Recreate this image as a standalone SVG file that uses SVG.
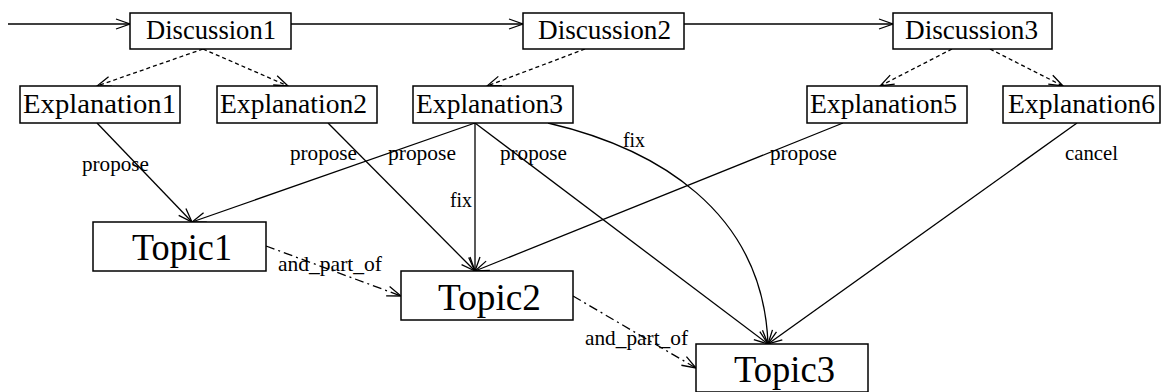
<svg xmlns="http://www.w3.org/2000/svg" width="1162" height="392" viewBox="0 0 1162 392">
<style>
.box{fill:#fff;stroke:#000;stroke-width:1.5}
.t{font-family:"Liberation Serif","Times New Roman",serif;fill:#000}
.n{font-size:28px}
.tp{font-size:37px}
.lb{font-size:21px}
.e{fill:none;stroke:#000;stroke-width:1.3}
.dash{stroke-dasharray:4 3}
.dd{stroke-dasharray:9 4 2 4}
</style>
<defs>
<marker id="arr" markerUnits="userSpaceOnUse" markerWidth="20" markerHeight="14" viewBox="-16 -7 18 14" refX="0" refY="0" orient="auto">
<path d="M-14,-5 L0,0 L-14,5" fill="none" stroke="#000" stroke-width="1.3"/>
</marker>
</defs>
<rect width="1162" height="392" fill="#fff"/>
<g id="connectors">
<path class="e" d="M8,24 L130,24" marker-end="url(#arr)"/>
<path class="e" d="M291,24 L523,24" marker-end="url(#arr)"/>
<path class="e" d="M684,24 L893,24" marker-end="url(#arr)"/>
<path class="e dash" d="M203,49 L97,86" marker-end="url(#arr)"/>
<path class="e dash" d="M203,49 L288,86" marker-end="url(#arr)"/>
<path class="e dash" d="M585,49 L487,86" marker-end="url(#arr)"/>
<path class="e dash" d="M952,49 L880,86" marker-end="url(#arr)"/>
<path class="e dash" d="M990,49 L1063,86" marker-end="url(#arr)"/>
<path class="e" d="M97,123 L192,222" marker-end="url(#arr)"/>
<path class="e" d="M475,123 L192,222" marker-end="url(#arr)"/>
<path class="e" d="M328,123 L475,271" marker-end="url(#arr)"/>
<path class="e" d="M475,123 L475,271" marker-end="url(#arr)"/>
<path class="e" d="M843,123 L475,271" marker-end="url(#arr)"/>
<path class="e" d="M475,123 L768,344" marker-end="url(#arr)"/>
<path class="e" d="M548,123 C655,148 763,210 768,344" marker-end="url(#arr)"/>
<path class="e" d="M1077,123 L768,344" marker-end="url(#arr)"/>
<path class="e dd" d="M266,246 L401,296" marker-end="url(#arr)"/>
<path class="e dd" d="M573,296 L696,368" marker-end="url(#arr)"/>
<text class="t lb" x="82" y="171" textLength="67" lengthAdjust="spacingAndGlyphs">propose</text>
<text class="t lb" x="290" y="160" textLength="67" lengthAdjust="spacingAndGlyphs">propose</text>
<text class="t lb" x="388" y="160" textLength="68" lengthAdjust="spacingAndGlyphs">propose</text>
<text class="t lb" x="450" y="207" textLength="22" lengthAdjust="spacingAndGlyphs">fix</text>
<text class="t lb" x="500" y="160" textLength="67" lengthAdjust="spacingAndGlyphs">propose</text>
<text class="t lb" x="623" y="147" textLength="22" lengthAdjust="spacingAndGlyphs">fix</text>
<text class="t lb" x="770" y="160" textLength="67" lengthAdjust="spacingAndGlyphs">propose</text>
<text class="t lb" x="1065" y="160" textLength="53" lengthAdjust="spacingAndGlyphs">cancel</text>
<text class="t lb" x="278" y="271" textLength="104" lengthAdjust="spacingAndGlyphs">and_part_of</text>
<text class="t lb" x="585" y="345" textLength="103" lengthAdjust="spacingAndGlyphs">and_part_of</text>
</g>
<g id="Discussion1"><rect class="box" x="130" y="13" width="161" height="36"/><text class="t n" x="146" y="39" textLength="130" lengthAdjust="spacingAndGlyphs">Discussion1</text></g>
<g id="Discussion2"><rect class="box" x="523" y="13" width="161" height="36"/><text class="t n" x="538" y="39" textLength="133" lengthAdjust="spacingAndGlyphs">Discussion2</text></g>
<g id="Discussion3"><rect class="box" x="893" y="13" width="159" height="36"/><text class="t n" x="905" y="39" textLength="133" lengthAdjust="spacingAndGlyphs">Discussion3</text></g>
<g id="Explanation1"><rect class="box" x="20" y="86" width="160" height="37"/><text class="t n" x="23" y="113" textLength="153" lengthAdjust="spacingAndGlyphs">Explanation1</text></g>
<g id="Explanation2"><rect class="box" x="217" y="86" width="160" height="37"/><text class="t n" x="220" y="113" textLength="147" lengthAdjust="spacingAndGlyphs">Explanation2</text></g>
<g id="Explanation3"><rect class="box" x="413" y="86" width="160" height="37"/><text class="t n" x="416" y="113" textLength="147" lengthAdjust="spacingAndGlyphs">Explanation3</text></g>
<g id="Explanation5"><rect class="box" x="807" y="86" width="160" height="37"/><text class="t n" x="810" y="113" textLength="147" lengthAdjust="spacingAndGlyphs">Explanation5</text></g>
<g id="Explanation6"><rect class="box" x="1003" y="86" width="157" height="37"/><text class="t n" x="1008" y="113" textLength="147" lengthAdjust="spacingAndGlyphs">Explanation6</text></g>
<g id="Topic1"><rect class="box" x="93" y="222" width="173" height="49"/><text class="t tp" x="132" y="260" textLength="100" lengthAdjust="spacingAndGlyphs">Topic1</text></g>
<g id="Topic2"><rect class="box" x="401" y="271" width="172" height="49"/><text class="t tp" x="438" y="310" textLength="103" lengthAdjust="spacingAndGlyphs">Topic2</text></g>
<g id="Topic3"><rect class="box" x="696" y="344" width="172" height="48"/><text class="t tp" x="734" y="382" textLength="101" lengthAdjust="spacingAndGlyphs">Topic3</text></g>
</svg>
